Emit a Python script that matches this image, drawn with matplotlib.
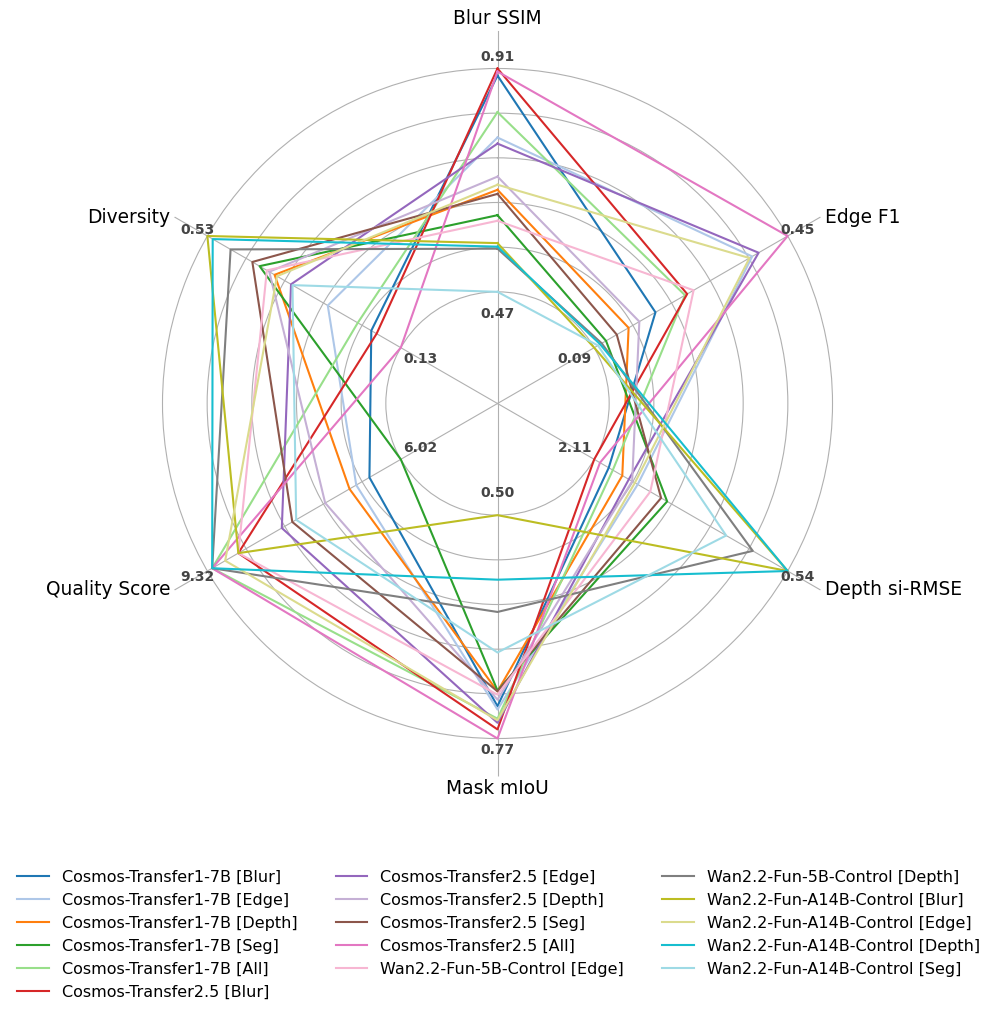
import numpy as np
import matplotlib
matplotlib.use("Agg")
import matplotlib.pyplot as plt

# ---------------- data ----------------
axes_labels = ["Blur SSIM", "Edge F1", "Depth si-RMSE", "Mask mIoU", "Quality Score", "Diversity"]
axis_inner = [0.47, 0.09, 2.11, 0.50, 6.02, 0.13]   # value shown at inner ring
axis_outer = [0.91, 0.45, 0.54, 0.77, 9.32, 0.53]   # value shown at outer ring

series_names = [
    "Cosmos-Transfer1-7B [Blur]",
    "Cosmos-Transfer1-7B [Edge]",
    "Cosmos-Transfer1-7B [Depth]",
    "Cosmos-Transfer1-7B [Seg]",
    "Cosmos-Transfer1-7B [All]",
    "Cosmos-Transfer2.5 [Blur]",
    "Cosmos-Transfer2.5 [Edge]",
    "Cosmos-Transfer2.5 [Depth]",
    "Cosmos-Transfer2.5 [Seg]",
    "Cosmos-Transfer2.5 [All]",
    "Wan2.2-Fun-5B-Control [Edge]",
    "Wan2.2-Fun-5B-Control [Depth]",
    "Wan2.2-Fun-A14B-Control [Blur]",
    "Wan2.2-Fun-A14B-Control [Edge]",
    "Wan2.2-Fun-A14B-Control [Depth]",
    "Wan2.2-Fun-A14B-Control [Seg]",
]

series_colors = [
    "#1f77b4", "#aec7e8", "#ff7f0e", "#2ca02c", "#98df8a",
    "#d62728", "#9467bd", "#c5b0d5", "#8c564b", "#e377c2",
    "#f7b6d2", "#7f7f7f", "#bcbd22", "#dbdb8d", "#17becf", "#9edae5",
]

blur_ssim = [0.896, 0.774, 0.671, 0.621, 0.824, 0.910, 0.762, 0.697, 0.663, 0.904,
             0.610, 0.555, 0.566, 0.681, 0.559, 0.470]
edge_f1 = [0.204, 0.384, 0.154, 0.112, 0.259, 0.263, 0.396, 0.174, 0.132, 0.450,
           0.275, 0.104, 0.090, 0.379, 0.101, 0.097]
depth_si_rmse = [1.992, 1.757, 1.882, 1.518, 1.959, 2.110, 1.829, 1.802, 1.567, 2.063,
                 1.655, 0.823, 0.540, 1.780, 0.540, 1.039]
mask_miou = [0.731, 0.735, 0.713, 0.712, 0.746, 0.759, 0.751, 0.723, 0.713, 0.770,
             0.717, 0.617, 0.500, 0.748, 0.578, 0.666]
quality_score = [6.555, 6.780, 6.895, 6.020, 9.238, 8.792, 8.050, 7.310, 7.871, 9.238,
                 8.792, 9.238, 8.792, 9.016, 9.238, 7.805]
diversity = [0.191, 0.281, 0.391, 0.422, 0.219, 0.180, 0.357, 0.402, 0.437, 0.130,
             0.407, 0.482, 0.530, 0.386, 0.519, 0.354]

metrics = [blur_ssim, edge_f1, depth_si_rmse, mask_miou, quality_score, diversity]

# ---------------- plot ----------------
fig = plt.figure(figsize=(9.97, 10.16), dpi=100)
ax = fig.add_axes([0.1249, 0.2357, 0.7482, 0.7343], polar=True)
ax.set_theta_offset(np.pi / 2)
ax.set_theta_direction(-1)

n_axes = len(axes_labels)
angles = np.arange(n_axes) * 2 * np.pi / n_axes
angles_closed = np.concatenate([angles, angles[:1]])

ax.set_ylim(-0.5, 1.17)
ax.set_yticks([0, 0.2, 0.4, 0.6, 0.8, 1.0])
ax.set_yticklabels([])
ax.set_xticks(angles)
ax.set_xticklabels([])
ax.spines["polar"].set_visible(False)
ax.grid(color="#b0b0b0", linewidth=0.8)

for i, name in enumerate(series_names):
    vals = []
    for k in range(n_axes):
        v = metrics[k][i]
        vals.append((v - axis_inner[k]) / (axis_outer[k] - axis_inner[k]))
    vals = np.array(vals + vals[:1])
    ax.plot(angles_closed, vals, color=series_colors[i], linewidth=1.5, label=name)

for k in range(n_axes):
    ax.text(angles[k], -0.1, f"{axis_inner[k]:.2f}", ha="center", va="center",
            fontsize=10, fontweight="bold", color="#444444", zorder=10)
    ax.text(angles[k], 1.05, f"{axis_outer[k]:.2f}", ha="center", va="center",
            fontsize=10, fontweight="bold", color="#444444", zorder=10)

label_align = [("center", "bottom", 0, 2), ("left", "center", 3, 0), ("left", "center", 3, 0),
               ("center", "top", 0, -2), ("right", "center", -3, 0), ("right", "center", -3, 0)]
for k in range(n_axes):
    ha, va, dx, dy = label_align[k]
    ax.annotate(axes_labels[k], xy=(angles[k], 1.17), xytext=(dx, dy),
                textcoords="offset points", ha=ha, va=va, fontsize=13.4)

fig.legend(loc="lower center", bbox_to_anchor=(0.5, 0.002), ncol=3, frameon=False,
           fontsize=11.5, labelspacing=0.5, columnspacing=2.4)

fig.savefig("out.png", dpi=100)
